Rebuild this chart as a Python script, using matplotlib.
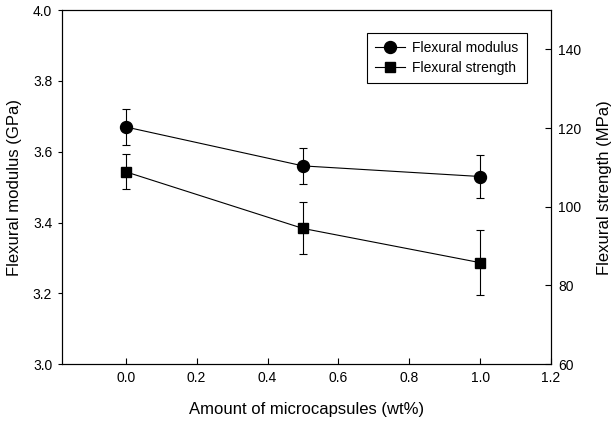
import matplotlib.pyplot as plt

plt.rcParams['font.family'] = ['Liberation Sans', 'DejaVu Sans']

# --- data ---
content = [0.0, 0.5, 1.0]                 # wt% microcapsules
modulus = [3.67, 3.56, 3.53]              # GPa
modulus_err = [0.05, 0.05, 0.06]
strength = [108.9, 94.5, 85.8]            # MPa
strength_err = [4.5, 6.6, 8.2]

x_ticks = [0.0, 0.2, 0.4, 0.6, 0.8, 1.0, 1.2]
left_ticks = [3.0, 3.2, 3.4, 3.6, 3.8, 4.0]
right_ticks = [60, 80, 100, 120, 140]

fig = plt.figure(figsize=(6.13, 4.21), dpi=100)
ax = fig.add_axes([0.101, 0.135, 0.798, 0.841])
ax2 = ax.twinx()

l1, = ax.plot(content, modulus, color='black', lw=0.8, marker='o', ms=8.6,
              label='Flexural modulus')
ax.errorbar(content, modulus, yerr=modulus_err, fmt='none', ecolor='black',
            elinewidth=0.8, capsize=3, capthick=0.8)

l2, = ax2.plot(content, strength, color='black', lw=0.8, marker='s', ms=7.7,
               label='Flexural strength')
ax2.errorbar(content, strength, yerr=strength_err, fmt='none', ecolor='black',
             elinewidth=0.8, capsize=3, capthick=0.8)

ax.set_xlim(-0.18, 1.2)
ax.set_ylim(3.0, 4.0)
ax2.set_ylim(60, 150)
ax.set_xticks(x_ticks)
ax.set_xticklabels([f'{v:.1f}' for v in x_ticks])
ax.set_yticks(left_ticks)
ax.set_yticklabels([f'{v:.1f}' for v in left_ticks])
ax2.set_yticks(right_ticks)

ax.tick_params(axis='y', direction='out', length=3, width=0.8, labelsize=10, pad=4)
ax.tick_params(axis='x', direction='in', length=4, width=0.8, labelsize=10, pad=5)
ax2.tick_params(axis='y', direction='in', length=4, width=0.8, labelsize=10, pad=5)
for a in (ax, ax2):
    for s in a.spines.values():
        s.set_linewidth(0.8)

ax.set_xlabel('Amount of microcapsules (wt%)', fontsize=12, labelpad=12)
ax.set_ylabel('Flexural modulus (GPa)', fontsize=12, labelpad=8)
ax2.set_ylabel('Flexural strength (MPa)', fontsize=12, labelpad=11)

leg = ax.legend(handles=[l1, l2], loc='upper right', fontsize=10,
                bbox_to_anchor=(0.965, 0.955), fancybox=False,
                edgecolor='black', framealpha=1, handlelength=2.2,
                borderpad=0.6, labelspacing=0.4, handletextpad=0.5)
leg.get_frame().set_linewidth(0.8)

fig.savefig('out.png', dpi=100)
